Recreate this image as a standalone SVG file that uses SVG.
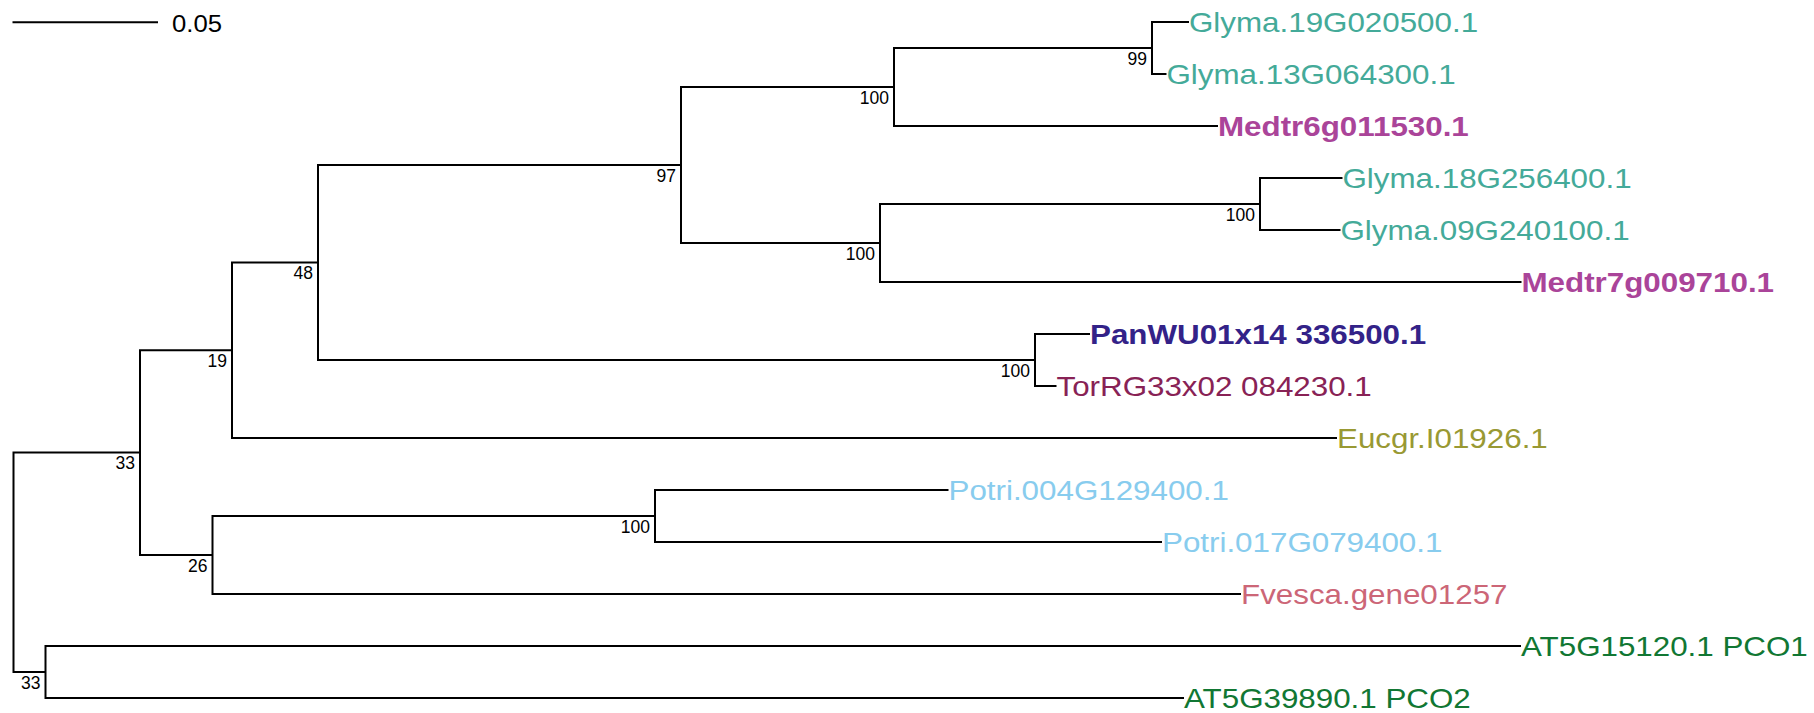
<svg xmlns="http://www.w3.org/2000/svg" width="1814" height="713" viewBox="0 0 1814 713">
<style>
.br{fill:none;stroke:#000;stroke-width:2;stroke-linejoin:miter}
.bs{font-family:"Liberation Sans",Arial,sans-serif;font-size:17.5px;fill:#000;text-anchor:end}
.lf{font-family:"Liberation Sans",Arial,sans-serif;font-size:28.5px}
.b{font-weight:bold}
.gly{fill:#44AA99}.med{fill:#AA4499}.pan{fill:#332288}.tor{fill:#882255}.euc{fill:#999933}.pot{fill:#88CCEE}.fve{fill:#CC6677}.ath{fill:#117733}
.sc{font-family:"Liberation Sans",Arial,sans-serif;font-size:24px;fill:#000}
</style>
<rect width="1814" height="713" fill="#fff"/>
<g id="scale">
<path class="br" d="M12.5 22.3H158"/>
<text class="sc" transform="translate(172 32.3) scale(1.07 1)">0.05</text>
</g>
<g id="connectors">
<path class="br" d="M140 452.6H13.5V672H45.5"/>
<path class="br" d="M232 350.25H140V555H212.5"/>
<path class="br" d="M318 262.5H232V438H1337"/>
<path class="br" d="M681 165H318V360H1035"/>
<path class="br" d="M894 87H681V243H880"/>
<path class="br" d="M1152 48H894V126H1218"/>
<path class="br" d="M1189 22H1152V74H1166.5"/>
<path class="br" d="M1260 204H880V282H1521.5"/>
<path class="br" d="M1342.5 178H1260V230H1340.5"/>
<path class="br" d="M1090 334H1035V386H1056.5"/>
<path class="br" d="M655 516H212.5V594H1241"/>
<path class="br" d="M948.5 490H655V542H1162"/>
<path class="br" d="M1521 646H45.5V698H1184"/>
</g>
<g id="bootstrap">
<text class="bs" x="135" y="469">33</text>
<text class="bs" x="227" y="367">19</text>
<text class="bs" x="313" y="279">48</text>
<text class="bs" x="676" y="181.5">97</text>
<text class="bs" x="889" y="103.5">100</text>
<text class="bs" x="1147" y="64.5">99</text>
<text class="bs" x="875" y="259.5">100</text>
<text class="bs" x="1255" y="220.5">100</text>
<text class="bs" x="1030" y="376.5">100</text>
<text class="bs" x="207.5" y="571.5">26</text>
<text class="bs" x="650" y="532.5">100</text>
<text class="bs" x="40.5" y="688.5">33</text>
</g>
<g id="leaf-glyma19"><text class="lf gly" transform="translate(1189 32.3) scale(1.1 1)">Glyma.19G020500.1</text></g>
<g id="leaf-glyma13"><text class="lf gly" transform="translate(1166.5 84.3) scale(1.1 1)">Glyma.13G064300.1</text></g>
<g id="leaf-medtr6"><text class="lf b med" transform="translate(1218 136.3) scale(1.1 1)">Medtr6g011530.1</text></g>
<g id="leaf-glyma18"><text class="lf gly" transform="translate(1342.5 188.3) scale(1.1 1)">Glyma.18G256400.1</text></g>
<g id="leaf-glyma09"><text class="lf gly" transform="translate(1340.5 240.3) scale(1.1 1)">Glyma.09G240100.1</text></g>
<g id="leaf-medtr7"><text class="lf b med" transform="translate(1521.5 292.3) scale(1.1 1)">Medtr7g009710.1</text></g>
<g id="leaf-panwu"><text class="lf b pan" transform="translate(1090 344.3) scale(1.1 1)">PanWU01x14 336500.1</text></g>
<g id="leaf-torrg"><text class="lf tor" transform="translate(1056.5 396.3) scale(1.1 1)">TorRG33x02 084230.1</text></g>
<g id="leaf-eucgr"><text class="lf euc" transform="translate(1337 448.3) scale(1.1 1)">Eucgr.I01926.1</text></g>
<g id="leaf-potri004"><text class="lf pot" transform="translate(948.5 500.3) scale(1.1 1)">Potri.004G129400.1</text></g>
<g id="leaf-potri017"><text class="lf pot" transform="translate(1162 552.3) scale(1.1 1)">Potri.017G079400.1</text></g>
<g id="leaf-fvesca"><text class="lf fve" transform="translate(1241 604.3) scale(1.1 1)">Fvesca.gene01257</text></g>
<g id="leaf-pco1"><text class="lf ath" transform="translate(1521 656.3) scale(1.1 1)">AT5G15120.1 PCO1</text></g>
<g id="leaf-pco2"><text class="lf ath" transform="translate(1184 708.3) scale(1.1 1)">AT5G39890.1 PCO2</text></g>
</svg>
